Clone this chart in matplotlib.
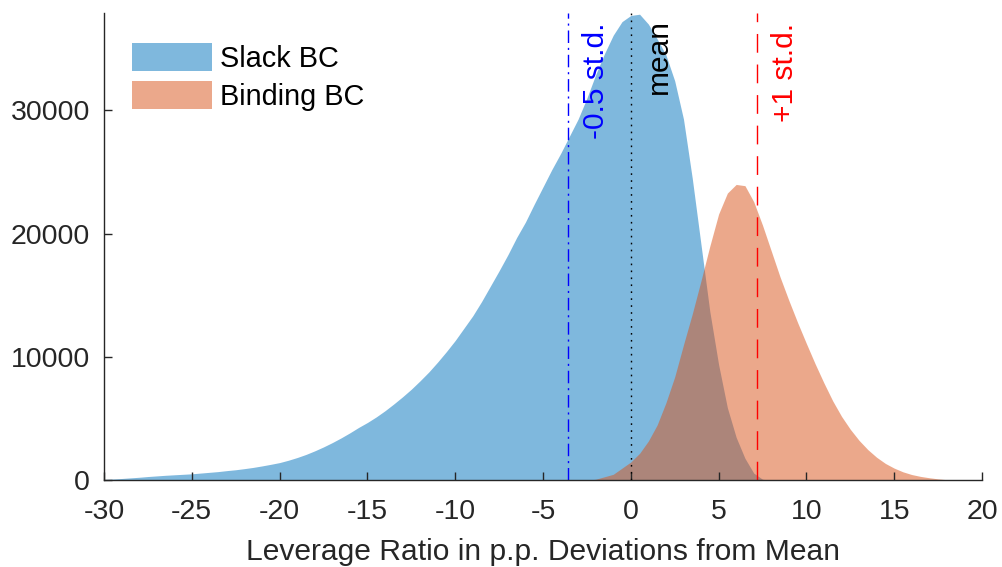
import matplotlib

matplotlib.use("Agg")
import matplotlib.pyplot as plt  # noqa: E402
import numpy as np  # noqa: E402

plt.rcParams["font.family"] = ["Liberation Sans", "DejaVu Sans"]
plt.rcParams["axes.unicode_minus"] = False

slack_x = np.arange(-30.0, 8.01, 0.5)
slack_counts = [
    80, 120, 160, 210, 260, 320, 370, 420, 460, 500,
    540, 600, 660, 720, 800, 870, 960, 1060, 1180, 1310,
    1450, 1640, 1860, 2110, 2400, 2720, 3070, 3450, 3860, 4300,
    4700, 5150, 5650, 6200, 6780, 7400, 8080, 8800, 9600, 10450,
    11350, 12350, 13350, 14500, 15750, 17000, 18300, 19700, 20950, 22400,
    23800, 25200, 26500, 27900, 29300, 31000, 32900, 34600, 36100, 37200,
    37700, 37800, 37000, 35800, 34500, 32400, 29300, 24500, 19100, 13700,
    9400, 5900, 3500, 1800, 600, 100, 0,
]
binding_x = np.arange(-2.5, 18.51, 0.5)
binding_counts = [
    0, 100, 300, 500, 1000, 1500, 2200, 3200, 4500, 6300,
    8400, 11000, 13500, 16200, 19000, 21600, 23300, 24000, 23900, 22600,
    20700, 18600, 16500, 14600, 12800, 11100, 9450, 7900, 6450, 5200,
    4150, 3250, 2500, 1880, 1380, 1000, 700, 480, 330, 220,
    130, 60, 0,
]
series_labels = ["Slack BC", "Binding BC"]

sd = 7.2
markers = [(-0.5 * sd, "-0.5 st.d.", "b", (9, 3.5, 1.5, 3.5), 37100),
           (0.0, "mean", "k", (1.2, 3.8), 37450),
           (1.0 * sd, "+1 st.d.", "r", (13.5, 8.5), 37100)]

blue = (0.0, 0.447, 0.741)
orange = (0.85, 0.325, 0.098)
axcol = (0.15, 0.15, 0.15)

fig = plt.figure(figsize=(10.03, 5.67), dpi=100)
ax = fig.add_axes([104 / 1003, 0.1526, 878 / 1003, 0.8245])

ax.fill_between(slack_x, slack_counts, color=blue, alpha=0.5, lw=0, label=series_labels[0])
ax.fill_between(binding_x, binding_counts, color=orange, alpha=0.5, lw=0, label=series_labels[1])

ymax = 37900
for xv, txt, c, dash, ty in markers:
    ax.plot([xv, xv], [0, ymax], color=c, lw=1.0, dashes=dash)
    ax.text(xv + 2.05, ty, txt, color=c, fontsize=21.5, rotation=90,
            rotation_mode="anchor", ha="right", va="baseline")

ax.set_xlim(-30, 20)
ax.set_ylim(0, ymax)
ax.set_xticks(np.arange(-30, 21, 5))
ax.set_yticks([0, 10000, 20000, 30000])
ax.set_yticklabels(["0", "10000", "20000", "30000"])

for s in ("top", "right"):
    ax.spines[s].set_visible(False)
for s in ("left", "bottom"):
    ax.spines[s].set_color(axcol)
    ax.spines[s].set_linewidth(1.0)
ax.tick_params(direction="in", length=6, width=1.0, color=axcol, labelcolor=axcol,
               labelsize=20.5)
ax.tick_params(axis="x", pad=13)
ax.tick_params(axis="y", pad=10)
ax.set_xlabel("Leverage Ratio in p.p. Deviations from Mean", fontsize=21.6, color=axcol,
              labelpad=10)

ax.legend(loc="upper left", bbox_to_anchor=(0.032, 0.936), frameon=False, fontsize=20.8,
          handlelength=2.75, handleheight=1.1, handletextpad=0.28, labelspacing=0.3,
          borderpad=0, borderaxespad=0)

fig.savefig("out.png", dpi=100)
plt.close(fig)
